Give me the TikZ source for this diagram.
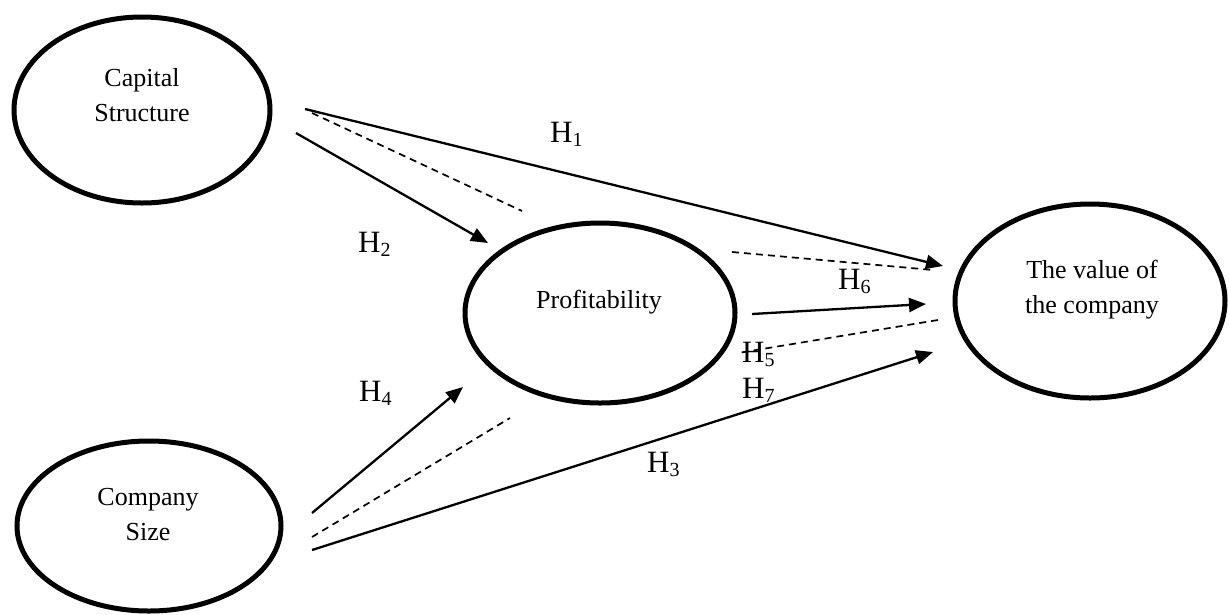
\documentclass[tikz,border=0pt]{standalone}
\usepackage{fontspec}
\setmainfont{Liberation Serif}
\usetikzlibrary{arrows.meta,shapes.geometric}
\newcommand{\Hyp}[1]{H\raisebox{-4pt}{\fontsize{20}{20}\selectfont #1}}
\begin{document}
\begin{tikzpicture}[x=1pt,y=-1pt,
  construct/.style={draw, ellipse, line width=5pt, inner sep=0pt},
  ctext/.style={align=center, font=\fontsize{26}{35}\selectfont, inner sep=0pt},
  hyp/.style={anchor=base west, inner sep=0pt, font=\fontsize{31}{31}\selectfont},
  solidarrow/.style={line width=2.3pt, -{Triangle[length=17pt,width=14pt]}},
  dashline/.style={line width=1.7pt, dash pattern=on 7pt off 5pt},
]
\useasboundingbox (0,0) rectangle (1229,614);
% constructs
\node[construct, minimum width=256pt, minimum height=186pt] (cap) at (142,110) {};
\node[ctext] (capT) at (142,95) {Capital\\Structure};
\node[construct, minimum width=270pt, minimum height=180pt] (prof) at (600,313) {};
\node[ctext] (profT) at (599,302) {Profitability};
\node[construct, minimum width=270pt, minimum height=194pt] (val) at (1090,301) {};
\node[ctext] (valT) at (1092,290) {The value of\\the company};
\node[construct, minimum width=264pt, minimum height=170pt] (size) at (149,526) {};
\node[ctext] (sizeT) at (148,515) {Company\\Size};
% connector end points
\coordinate (h1s) at (305,109);  \coordinate (h1e) at (943,266);
\coordinate (d1s) at (312,113);  \coordinate (d1e) at (522,211);
\coordinate (h2s) at (296,133);  \coordinate (h2e) at (488,243);
\coordinate (d2s) at (732,252);  \coordinate (d2e) at (933,270);
\coordinate (h5s) at (752,314);  \coordinate (h5e) at (926,304);
\coordinate (d3s) at (938,320);  \coordinate (d3e) at (738,353);
\coordinate (h3s) at (312,550);  \coordinate (h3e) at (933,352);
\coordinate (h4s) at (312,513);  \coordinate (h4e) at (463,387);
\coordinate (d4s) at (312,537);  \coordinate (d4e) at (510,418);
% connectors
\draw[solidarrow] (h1s) -- (h1e);
\draw[dashline] (d1s) -- (d1e);
\draw[solidarrow] (h2s) -- (h2e);
\draw[dashline] (d2s) -- (d2e);
\draw[solidarrow] (h5s) -- (h5e);
\draw[dashline] (d3s) -- (d3e);
\draw[solidarrow] (h3s) -- (h3e);
\draw[solidarrow] (h4s) -- (h4e);
\draw[dashline] (d4s) -- (d4e);
% labels
\node[hyp] (l1) at (550,142) {\Hyp{1}};
\node[hyp] (l2) at (358,252) {\Hyp{2}};
\node[hyp] (l4) at (359,401) {\Hyp{4}};
\node[hyp] (l6) at (838,289) {\Hyp{6}};
\node[hyp] (l5) at (742,362) {\Hyp{5}};
\node[hyp] (l7) at (742,398) {\Hyp{7}};
\node[hyp] (l3) at (647,472) {\Hyp{3}};
\end{tikzpicture}
\end{document}
